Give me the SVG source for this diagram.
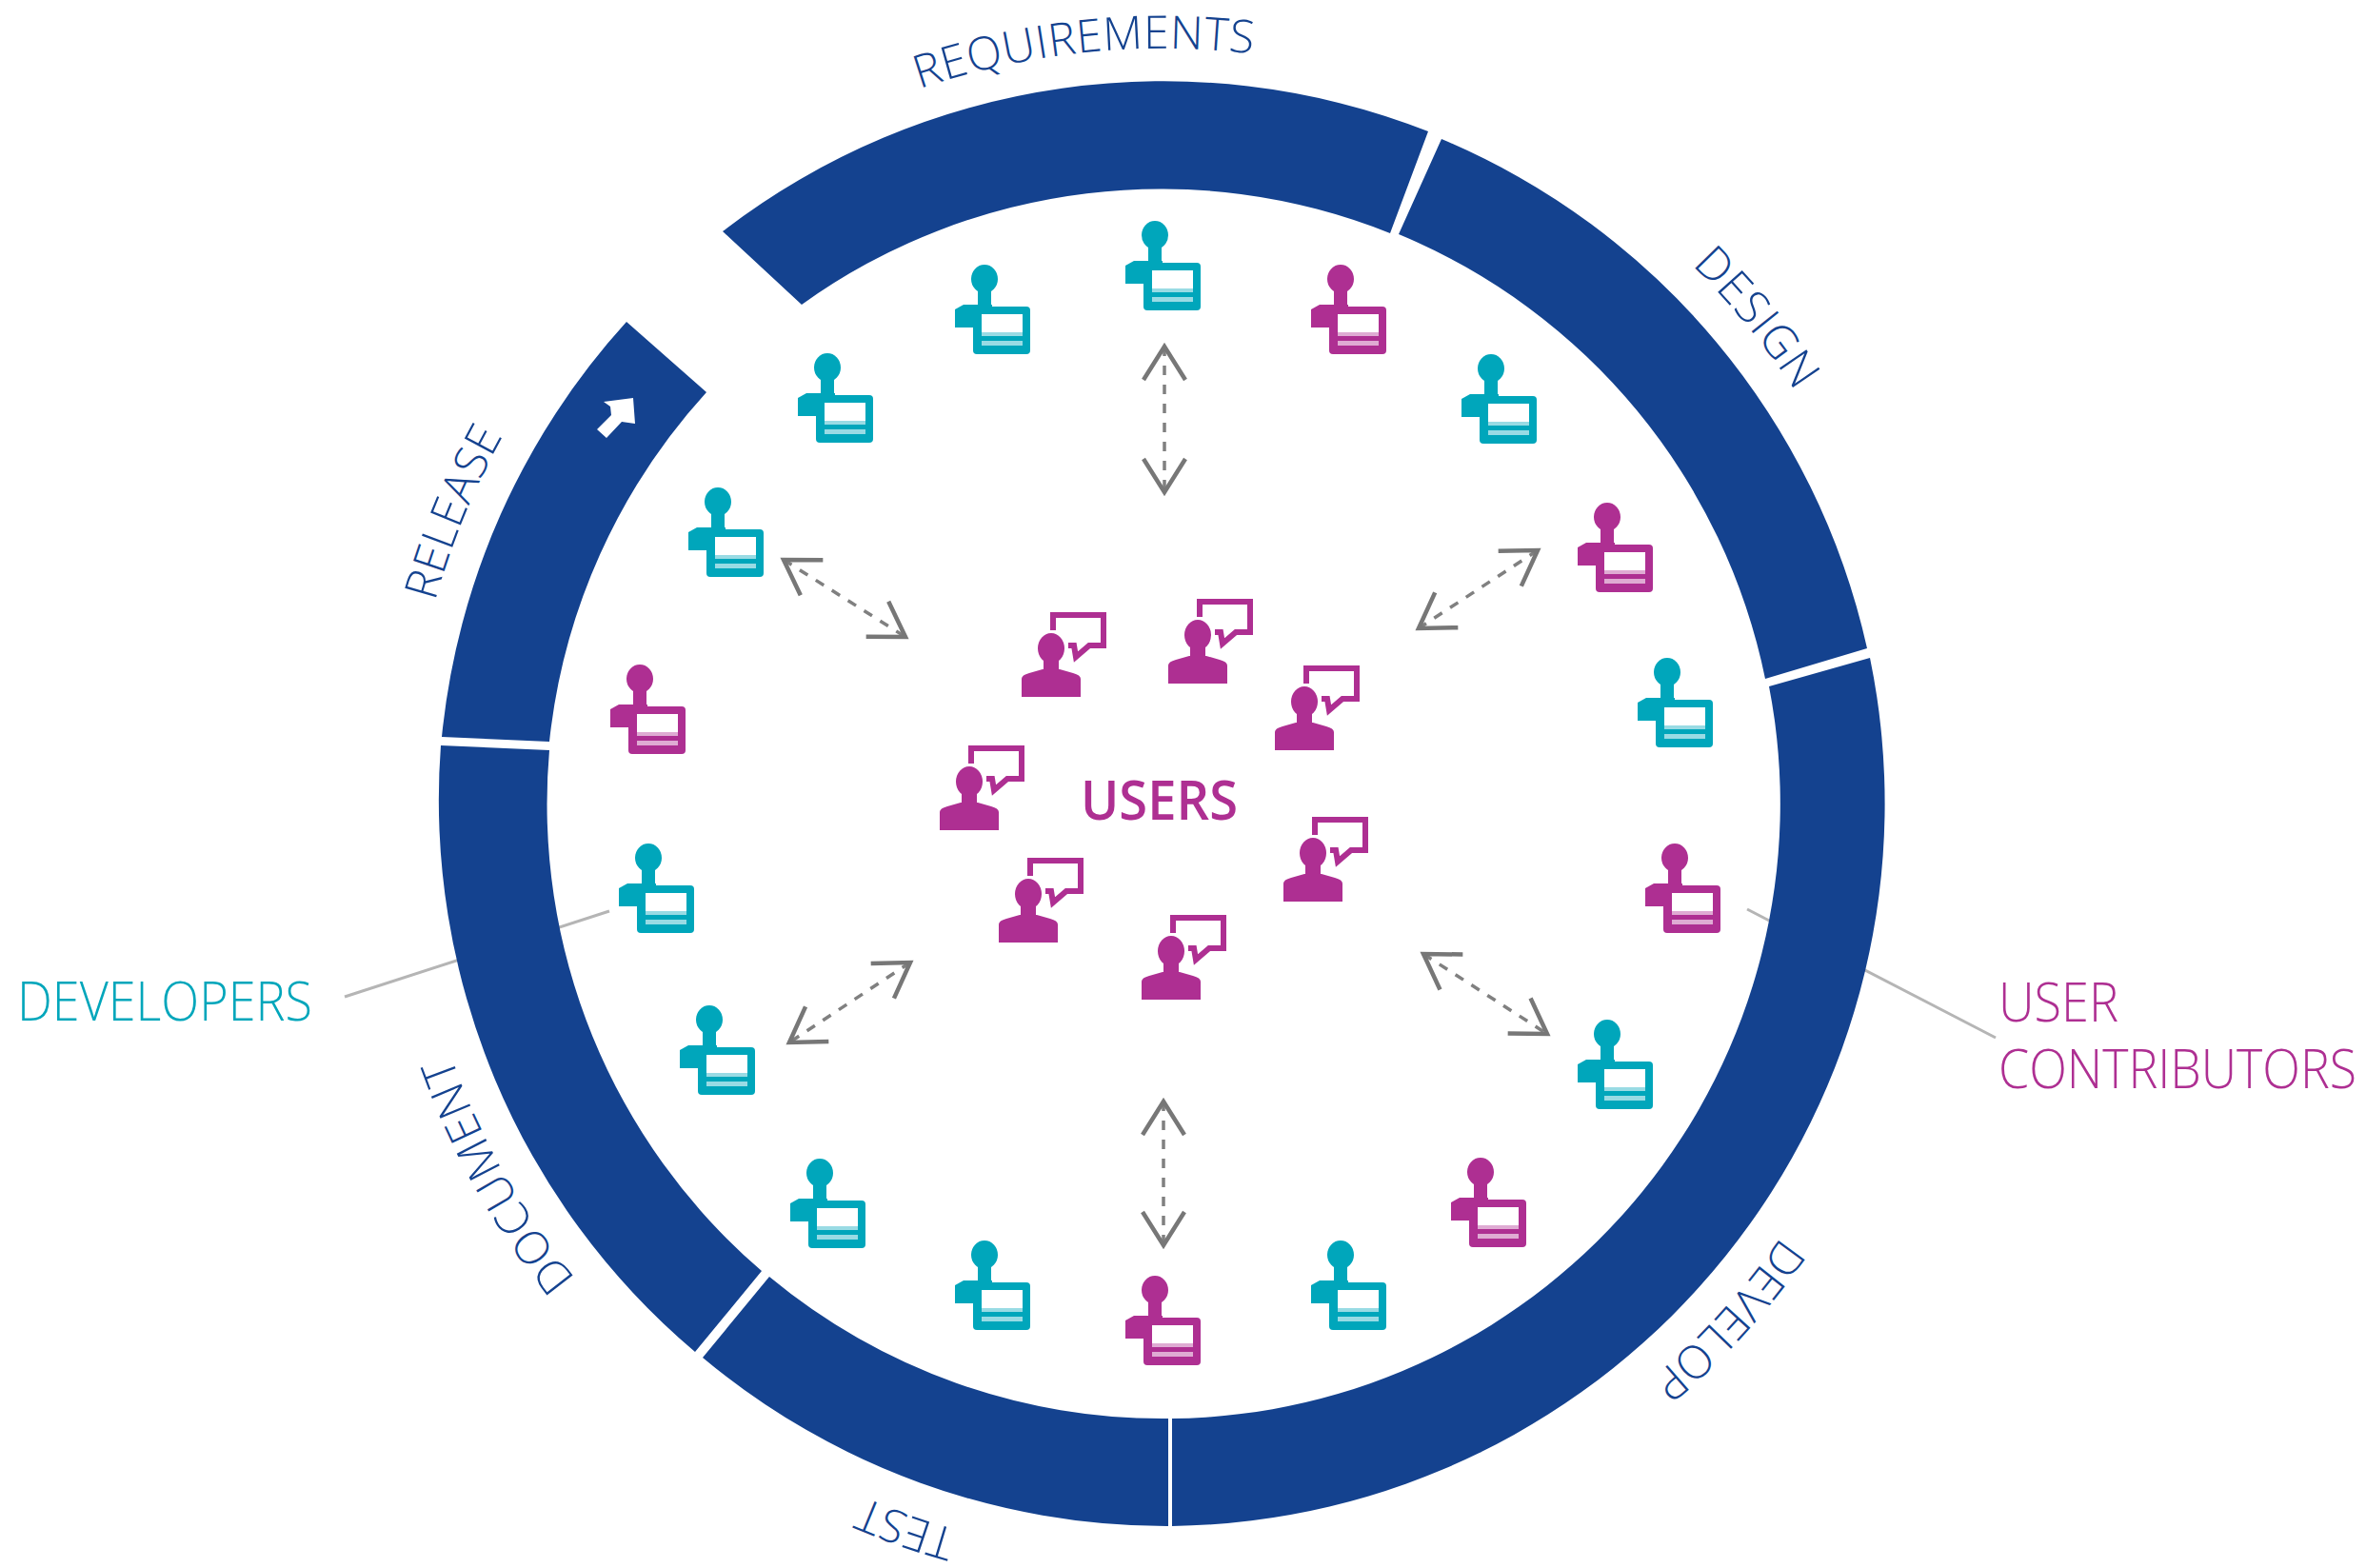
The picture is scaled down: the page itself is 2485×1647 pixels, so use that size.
<svg xmlns="http://www.w3.org/2000/svg" width="2485" height="1647" viewBox="0 0 2485 1647">
<style>
.seg{fill:#14428f}
.ring{font-family:"Open Sans","Liberation Sans",sans-serif;font-weight:300;font-size:48px;fill:#14428f}
.lab{font-family:"Open Sans","Liberation Sans",sans-serif;font-weight:300;font-size:57px}
.teal{color:#00a6bb;fill:#00a6bb}
.mag{color:#ae2f92;fill:#ae2f92}
.leader{stroke:#b5b5b5;stroke-width:3;fill:none}
.arrow{stroke:#808080;stroke-width:3.5;stroke-dasharray:10 10;fill:none;marker-start:url(#head);marker-end:url(#head)}
</style>
<defs>
<marker id="head" markerUnits="userSpaceOnUse" markerWidth="60" markerHeight="60" refX="45" refY="30" orient="auto-start-reverse" viewBox="0 0 60 60">
<path d="M10,8 L45,30 L10,52" fill="none" stroke="#777" stroke-width="4.5"/>
</marker>
<path id="p-req" d="M965.5,93.3 A793,793 0 0 1 1617.5,157.2"/>
<path id="p-des" d="M1776.8,278.4 A793,793 0 0 1 2002,706"/>
<path id="p-dev" d="M1870.6,1298.9 A793,793 0 0 1 1358.7,1625"/>
<path id="p-tes" d="M1005,1607 A793,793 0 0 1 613.5,1353.7"/>
<path id="p-doc" d="M604.7,1343 A793,793 0 0 1 440,706.3"/>
<path id="p-rel" d="M456.9,632.1 A793,793 0 0 1 824.5,157.2"/>
<g id="dev">
<ellipse cx="32" cy="15" rx="14" ry="15" fill="currentColor"/>
<rect x="25" y="26" width="14" height="20" fill="currentColor"/>
<path d="M1,66 V47 L10,42 H40 V66 Z" fill="currentColor"/>
<rect x="20" y="44" width="60" height="50" rx="4" fill="currentColor"/>
<rect x="29" y="52" width="43" height="19" fill="#fff"/>
<rect x="29" y="71" width="43" height="4" fill="#fff" opacity=".6"/>
<rect x="29" y="80" width="43" height="5" fill="#fff" opacity=".6"/>
</g>
<g id="usr">
<ellipse cx="31" cy="38" rx="14" ry="16" fill="currentColor"/>
<rect x="23" y="48" width="16" height="15" fill="currentColor"/>
<path d="M0,89 V70 Q0,66 8,64 L22,60 H40 L54,64 Q62,66 62,70 V89 Z" fill="currentColor"/>
<path d="M33,19 V3 H86 V35 H71 L57,47 L55,35 H49" fill="none" stroke="currentColor" stroke-width="6"/>
</g>
</defs>
<rect width="2485" height="1647" fill="#fff"/>
<g id="connectors">
<line class="leader" x1="362" y1="1047" x2="640" y2="957"/>
<line class="leader" x1="2096" y1="1090" x2="1835" y2="955"/>
<line class="arrow" x1="1223" y1="364" x2="1223" y2="517"/>
<line class="arrow" x1="1222" y1="1157" x2="1222" y2="1308"/>
<line class="arrow" x1="1615" y1="578" x2="1490" y2="660"/>
<line class="arrow" x1="823" y1="588" x2="951" y2="669"/>
<line class="arrow" x1="956" y1="1011" x2="829" y2="1095"/>
<line class="arrow" x1="1495" y1="1002" x2="1625" y2="1086"/>
</g>
<g id="phase-requirements">
<path class="seg" d="M759,243 A759,759 0 0 1 1500,138 L1460,245 A646,646 0 0 0 842,320 Z"/>
<text class="ring" letter-spacing="0.7"><textPath href="#p-req">REQUIREMENTS</textPath></text>
</g>
<g id="phase-design">
<path class="seg" d="M1514,146 A759,759 0 0 1 1961,681 L1854,713 A646,646 0 0 0 1469,246 Z"/>
<text class="ring" letter-spacing="0.8"><textPath href="#p-des">DESIGN</textPath></text>
</g>
<g id="phase-develop">
<path class="seg" d="M1964,691 A759,759 0 0 1 1231,1603 L1231,1490 A646,646 0 0 0 1858,721 Z"/>
<text class="ring"><textPath href="#p-dev">DEVELOP</textPath></text>
</g>
<g id="phase-test">
<path class="seg" d="M1227,1603 A759,759 0 0 1 738,1426 L808,1341 A646,646 0 0 0 1227,1490 Z"/>
<text class="ring"><textPath href="#p-tes">TEST</textPath></text>
</g>
<g id="phase-document">
<path class="seg" d="M730,1420 A759,759 0 0 1 463,783 L577,788 A646,646 0 0 0 800,1335 Z"/>
<text class="ring" letter-spacing="0.9"><textPath href="#p-doc">DOCUMENT</textPath></text>
</g>
<g id="phase-release">
<path class="seg" d="M464,774 A759,759 0 0 1 658,338 L742,412 A646,646 0 0 0 577,779 Z"/>
<polygon points="634,422 665,418 667,445 653,443 637,460 627,451 642,436 641,427" fill="#fff"/>
<text class="ring" letter-spacing="0.2"><textPath href="#p-rel">RELEASE</textPath></text>
</g>
<g id="developers">
<use href="#dev" class="teal" x="1181" y="232"/>
<use href="#dev" class="teal" x="1002" y="278"/>
<use href="#dev" class="teal" x="837" y="371"/>
<use href="#dev" class="teal" x="722" y="512"/>
<use href="#dev" class="mag" x="640" y="698"/>
<use href="#dev" class="teal" x="649" y="886"/>
<use href="#dev" class="teal" x="713" y="1056"/>
<use href="#dev" class="teal" x="829" y="1217"/>
<use href="#dev" class="teal" x="1002" y="1303"/>
<use href="#dev" class="mag" x="1181" y="1340"/>
<use href="#dev" class="teal" x="1376" y="1303"/>
<use href="#dev" class="mag" x="1523" y="1216"/>
<use href="#dev" class="teal" x="1656" y="1071"/>
<use href="#dev" class="mag" x="1727" y="886"/>
<use href="#dev" class="teal" x="1719" y="691"/>
<use href="#dev" class="mag" x="1656" y="528"/>
<use href="#dev" class="teal" x="1534" y="372"/>
<use href="#dev" class="mag" x="1376" y="278"/>
</g>
<g id="users">
<use href="#usr" class="mag" x="1073" y="643"/>
<use href="#usr" class="mag" x="1227" y="629"/>
<use href="#usr" class="mag" x="1339" y="699"/>
<use href="#usr" class="mag" x="987" y="783"/>
<use href="#usr" class="mag" x="1348" y="858"/>
<use href="#usr" class="mag" x="1049" y="901"/>
<use href="#usr" class="mag" x="1199" y="961"/>
<text x="1135" y="861" font-family="Open Sans, Liberation Sans, sans-serif" font-weight="600" font-size="57" textLength="165" lengthAdjust="spacingAndGlyphs" class="mag">USERS</text>
</g>
<g id="label-developers">
<text class="lab teal" x="18" y="1072" textLength="310" lengthAdjust="spacingAndGlyphs">DEVELOPERS</text>
</g>
<g id="label-user-contributors">
<text class="lab mag" x="2099" y="1073" textLength="126" lengthAdjust="spacingAndGlyphs">USER</text>
<text class="lab mag" x="2099" y="1143" textLength="376" lengthAdjust="spacingAndGlyphs">CONTRIBUTORS</text>
</g>
</svg>
